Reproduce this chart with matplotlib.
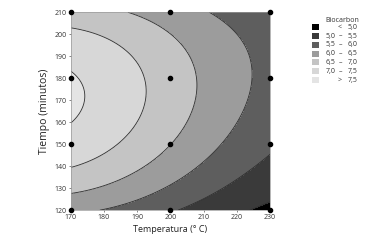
import numpy as np
import matplotlib
matplotlib.use("Agg")
import matplotlib.pyplot as plt
from matplotlib.patches import Rectangle

plt.rcParams['font.family'] = ['Open Sans', 'DejaVu Sans']

# response surface (coded: x=(T-200)/30, y=(t-165)/45)
# terms: 1, x, y, x^2, y^2, xy, x^3, y^3, x^2 y, x y^2
coef = [6.7202, -1.0182, 0.3767, -0.0537, -0.8182, 0.0487,
        0.1286, -0.0310, 0.0056, 0.3340]

# design points
temp_pts = [170, 170, 170, 170, 200, 200, 200, 200, 230, 230, 230, 230]
tiempo_pts = [120, 150, 180, 210, 120, 150, 180, 210, 120, 150, 180, 210]

levels = [4.0, 5.0, 5.5, 6.0, 6.5, 7.0, 7.5, 9.0]
colors = ['#000000', '#3a3a3a', '#5e5e5e', '#9c9c9c', '#c4c4c4', '#d7d7d7', '#e4e4e4']
lab_lo = ['<', '5,0', '5,5', '6,0', '6,5', '7,0', '>']
lab_hi = ['5,0', '5,5', '6,0', '6,5', '7,0', '7,5', '7,5']

def surface(T, t):
    x = (T - 200) / 30
    y = (t - 165) / 45
    terms = [np.ones_like(x), x, y, x*x, y*y, x*y, x**3, y**3, x*x*y, x*y*y]
    return sum(c*b for c, b in zip(coef, terms))

T, t = np.meshgrid(np.linspace(170, 230, 301), np.linspace(120, 210, 301))
Z = surface(T, t)

fig = plt.figure(figsize=(3.65, 2.41), dpi=100)
ax = fig.add_axes([0.194, 0.128, 0.546, 0.821])
ax.contourf(T, t, Z, levels=levels, colors=colors)
ax.contour(T, t, Z, levels=levels[1:-1], colors='#2e2e2e', linewidths=0.6)
ax.plot(temp_pts, tiempo_pts, 'ko', markersize=3, clip_on=False, zorder=5)
ax.set_xlim(170, 230)
ax.set_ylim(120, 210)
ax.set_xticks(range(170, 231, 10))
ax.set_yticks(range(120, 211, 10))
ax.tick_params(labelsize=5, length=1.5, width=0.5, colors='#555555', labelcolor='#333333', pad=1.5)
for s in ax.spines.values():
    s.set_linewidth(0.5)
    s.set_color('#999999')
ax.set_xlabel('Temperatura (° C)', fontsize=6.5, labelpad=3, color='#222222')
ax.set_ylabel('Tiempo (minutos)', fontsize=7.5, labelpad=3, color='#222222')

# legend
fig.text(325.7/365, 1 - 20/241, 'Biocarbon', fontsize=5, va='center', ha='left', color='#333333')
for i in range(7):
    yc = 27.3 + i*8.8
    fig.patches.append(Rectangle((312.3/365, 1 - (yc + 3)/241), 7/365, 6/241,
                                 transform=fig.transFigure, facecolor=colors[i],
                                 edgecolor='none'))
    yy = 1 - yc/241
    if lab_lo[i] in ('<', '>'):
        fig.text(340/365, yy, lab_lo[i], fontsize=5, va='center', ha='center', color='#333333')
    else:
        fig.text(325.7/365, yy, lab_lo[i], fontsize=5, va='center', ha='left', color='#333333')
        fig.text(340/365, yy, '\u2013', fontsize=5, va='center', ha='center', color='#333333')
    fig.text(348/365, yy, lab_hi[i], fontsize=5, va='center', ha='left', color='#333333')

plt.savefig('out.png')
